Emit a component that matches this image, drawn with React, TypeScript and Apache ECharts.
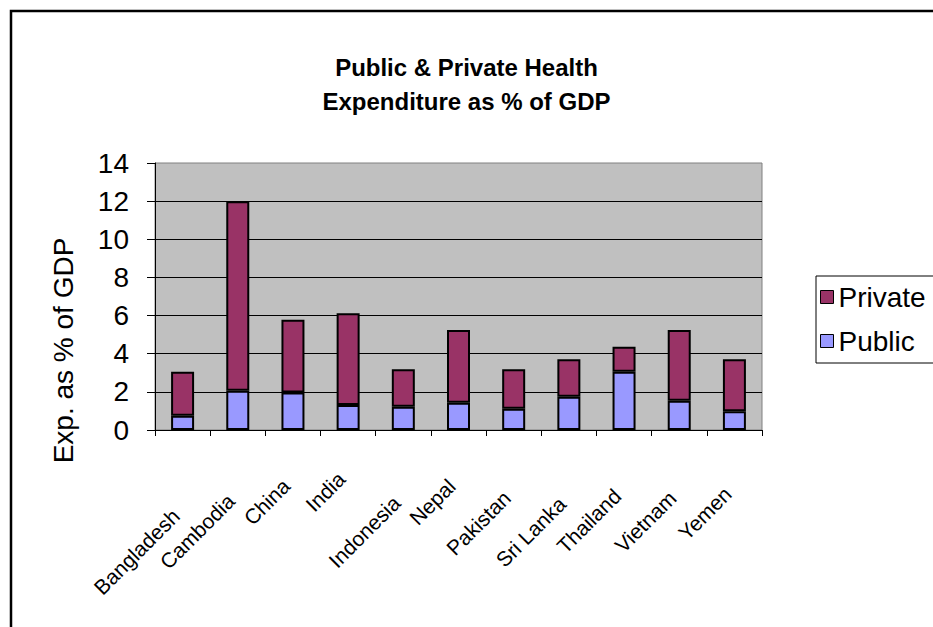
import React, { useEffect, useRef } from "react";
import * as echarts from "echarts";

const categories = [
  "Bangladesh", "Cambodia", "China", "India", "Indonesia", "Nepal",
  "Pakistan", "Sri Lanka", "Thailand", "Vietnam", "Yemen",
];
const publicValues = [0.75, 2.06, 1.96, 1.31, 1.22, 1.43, 1.12, 1.75, 3.06, 1.54, 0.98];
const privateValues = [2.3, 9.94, 3.82, 4.81, 1.96, 3.81, 2.06, 1.96, 1.31, 3.7, 2.73];
const yTicks = { min: 0, max: 14, interval: 2 };
const titleLines = ["Public & Private Health", "Expenditure as % of GDP"];
const yAxisName = "Exp. as % of GDP";

// label vertical drop (px) to mimic the staggered rotated labels of the original
const labelDrop = [37, 22, 7, 0, 24, 7, 19, 25, 17, 19, 15];

const FONT = "'Liberation Sans', Arial, sans-serif";

export default function App() {
  const ref = useRef<HTMLDivElement>(null);
  useEffect(() => {
    if (!ref.current) return;
    const chart = echarts.init(ref.current, undefined, { renderer: "svg" });
    const catData = categories.map((c, i) => {
      const p = labelDrop[i] / Math.SQRT2;
      return {
        value: c,
        textStyle: { verticalAlign: "top", padding: [p, p + 20, 0, 0] },
      };
    });
    chart.setOption({
      animation: false,
      backgroundColor: "#ffffff",
      textStyle: { fontFamily: FONT },
      title: {
        text: titleLines.join("\n"),
        left: "center",
        top: 45,
        textStyle: { fontFamily: FONT, fontSize: 24, fontWeight: "bold", color: "#000", lineHeight: 34 },
      },
      legend: {
        data: ["Private", "Public"],
        orient: "vertical",
        left: 816,
        top: 276,
        padding: [6, 20, 7, 4],
        itemGap: 14,
        itemWidth: 13,
        itemHeight: 13,
        icon: "rect",
        borderColor: "#000",
        borderWidth: 1,
        itemStyle: { borderColor: "#000", borderWidth: 1 },
        textStyle: { fontFamily: FONT, fontSize: 28, color: "#000", lineHeight: 30 },
      },
      grid: {
        left: 155,
        top: 163,
        right: 171,
        bottom: 197,
        show: true,
        backgroundColor: "#C0C0C0",
        borderColor: "#808080",
        borderWidth: 1,
      },
      xAxis: {
        type: "category",
        data: catData,
        boundaryGap: true,
        axisLine: { show: true, lineStyle: { color: "#000", width: 1 } },
        axisTick: { show: true, length: 6, lineStyle: { color: "#000" } },
        axisLabel: {
          rotate: 45,
          interval: 0,
          margin: 24,
          fontFamily: FONT,
          fontSize: 21,
          color: "#000",
        },
      },
      yAxis: {
        type: "value",
        min: yTicks.min,
        max: yTicks.max,
        interval: yTicks.interval,
        name: yAxisName,
        nameLocation: "middle",
        nameGap: 78,
        nameTextStyle: { fontFamily: FONT, fontSize: 28, color: "#000", padding: [0, 108, 0, 0] },
        axisLine: { show: true, lineStyle: { color: "#000", width: 1 } },
        axisTick: { show: true, length: 8, lineStyle: { color: "#000" } },
        axisLabel: { fontFamily: FONT, fontSize: 28, color: "#000", margin: 26 },
        splitLine: { show: true, showMaxLine: false, lineStyle: { color: "#000", width: 1 } },
      },
      series: [
        {
          name: "Public",
          type: "bar",
          stack: "total",
          barWidth: 23,
          data: publicValues,
          itemStyle: { color: "#9999FF", borderColor: "#000", borderWidth: 2 },
        },
        {
          name: "Private",
          type: "bar",
          stack: "total",
          barWidth: 23,
          data: privateValues,
          itemStyle: { color: "#993366", borderColor: "#000", borderWidth: 2 },
        },
      ],
      graphic: [
        {
          type: "rect",
          shape: { x: 11, y: 11, width: 960, height: 660 },
          style: { fill: "none", stroke: "#000", lineWidth: 2.5 },
          silent: true,
        },
      ],
    });
    return () => chart.dispose();
  }, []);
  return (
    <div
      ref={ref}
      style={{ position: "fixed", left: 0, top: 0, width: 933, height: 627 }}
    />
  );
}
